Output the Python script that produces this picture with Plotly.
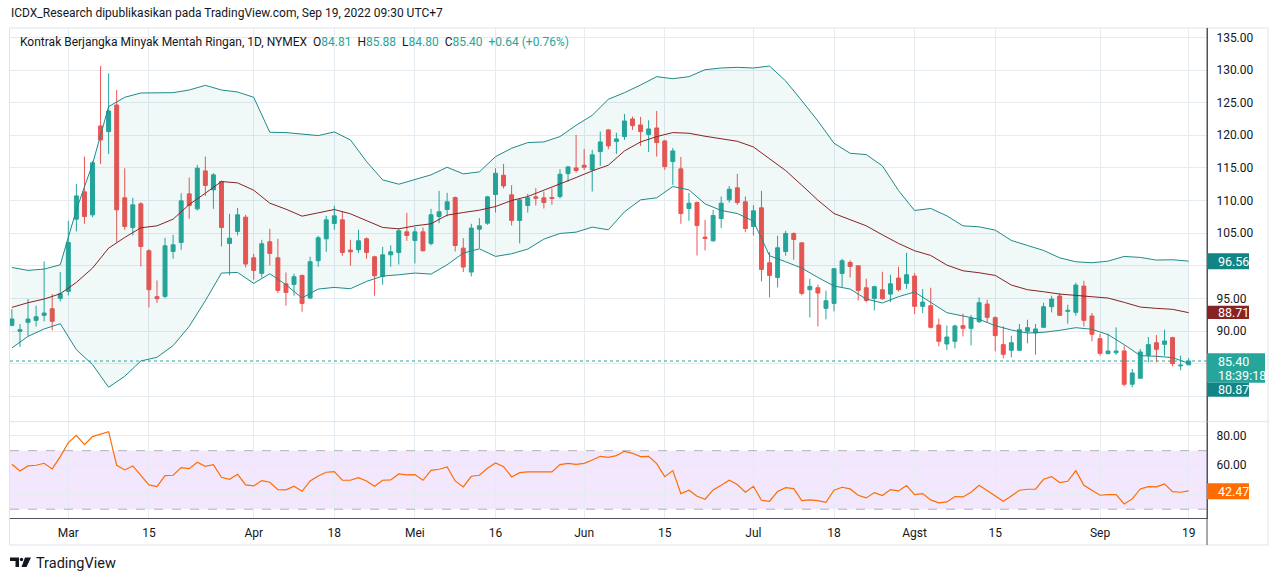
import pandas as pd
import plotly.graph_objects as go

# daily bars, NYMEX light crude, Feb 17 .. Sep 19 2022 (no bar on these days)
holidays = ['2022-02-21', '2022-04-15', '2022-05-30', '2022-06-20', '2022-07-04', '2022-09-05']
dates = [d for d in pd.bdate_range('2022-02-17', '2022-09-19') if d.strftime('%Y-%m-%d') not in holidays]

opens = [90.87, 89.95, 91.33, 91.63, 92.40, 93.42, 95.00, 96.07, 107.14, 111.33,
         107.80, 121.43, 120.56, 124.64, 110.41, 105.87, 109.49, 102.30, 95.26, 95.31,
         102.19, 103.57, 111.02, 108.72, 114.54, 111.63, 112.91, 103.42, 105.26, 107.45,
         101.22, 98.83, 103.67, 101.22, 97.24, 97.14, 98.52, 95.05, 100.77, 104.13,
         106.48, 107.04, 102.40, 102.45, 104.13, 101.38, 98.37, 101.68, 102.04, 105.20,
         103.88, 105.20, 103.42, 107.55, 108.62, 110.46, 102.70, 99.03, 105.61, 106.53,
         110.92, 113.88, 110.87, 106.94, 109.23, 110.56, 110.41, 110.46, 110.61, 114.13,
         115.00, 115.41, 114.69, 117.50, 120.82, 119.03, 119.80, 122.50, 121.58, 120.10,
         121.12, 119.13, 115.97, 114.85, 108.78, 109.69, 104.39, 103.83, 107.24, 110.10,
         111.94, 109.80, 106.02, 108.88, 100.46, 98.21, 102.19, 104.95, 103.52, 96.33,
         96.63, 93.47, 94.23, 98.83, 100.51, 100.00, 96.63, 95.00, 96.33, 95.66,
         98.11, 97.30, 98.42, 93.78, 93.88, 90.92, 88.01, 88.42, 90.82, 90.41,
         91.43, 94.13, 92.04, 87.91, 87.04, 87.04, 89.95, 89.69, 90.56, 93.72,
         95.36, 93.01, 92.86, 96.89, 92.30, 88.83, 86.53, 86.68, 86.94, 81.84,
         82.76, 86.28, 88.21, 87.96, 88.98, 84.64, 84.81]
highs = [93.37, 91.07, 94.90, 93.88, 100.66, 95.66, 99.03, 106.89, 112.55, 116.73,
         116.07, 130.60, 129.49, 126.94, 114.95, 110.41, 109.74, 102.55, 97.76, 104.29,
         104.74, 111.12, 113.52, 115.46, 116.73, 114.18, 113.06, 107.96, 108.88, 107.81,
         101.84, 103.98, 105.66, 104.13, 98.98, 98.78, 98.62, 101.38, 104.59, 107.65,
         109.18, 108.32, 103.98, 105.51, 104.34, 101.53, 102.90, 103.11, 105.77, 108.11,
         105.92, 105.87, 108.72, 111.48, 111.17, 110.61, 104.23, 106.43, 107.30, 110.71,
         114.95, 115.61, 112.35, 110.20, 111.02, 111.89, 111.38, 111.89, 114.80, 115.30,
         120.05, 117.91, 117.76, 120.56, 120.97, 120.36, 123.27, 122.86, 122.81, 122.30,
         123.72, 119.29, 118.06, 116.68, 111.17, 109.85, 107.04, 108.57, 110.61, 112.24,
         114.08, 110.61, 109.29, 111.48, 102.09, 104.59, 105.36, 105.10, 103.52, 98.01,
         97.09, 96.17, 99.64, 101.07, 100.82, 100.00, 98.01, 96.94, 99.08, 98.62,
         99.85, 101.99, 98.88, 96.43, 96.63, 91.89, 90.82, 90.97, 92.65, 92.45,
         95.15, 94.80, 92.24, 90.71, 89.29, 91.07, 91.73, 91.07, 94.34, 95.41,
         95.82, 94.03, 97.40, 97.70, 92.76, 89.59, 89.59, 90.56, 87.76, 84.18,
         87.24, 89.08, 89.39, 90.20, 89.13, 86.22, 85.88]
lows = [90.70, 87.55, 89.20, 90.70, 91.48, 90.10, 94.54, 95.46, 105.26, 106.43,
        107.45, 115.60, 117.14, 103.62, 105.51, 104.64, 99.90, 93.62, 94.29, 95.00,
        101.07, 102.45, 107.19, 108.47, 110.71, 108.72, 102.96, 98.52, 104.64, 99.74,
        97.86, 98.21, 100.05, 95.82, 93.88, 95.41, 92.96, 94.90, 99.85, 102.14,
        105.51, 101.53, 100.00, 101.94, 101.07, 95.41, 97.09, 99.85, 100.20, 103.83,
        100.36, 102.19, 103.11, 106.53, 107.55, 102.19, 99.03, 98.37, 102.70, 106.28,
        108.16, 111.84, 106.17, 103.42, 108.16, 109.23, 108.78, 109.34, 110.31, 112.86,
        114.29, 114.69, 111.38, 115.30, 117.86, 117.14, 119.29, 120.82, 118.37, 117.45,
        116.73, 114.69, 112.40, 106.43, 106.89, 101.58, 102.35, 103.67, 105.77, 109.69,
        109.34, 105.15, 104.64, 97.60, 95.15, 96.68, 101.53, 100.92, 95.46, 92.09,
        90.71, 91.79, 93.01, 96.68, 98.21, 94.69, 94.39, 93.16, 94.80, 94.44,
        96.07, 96.48, 92.60, 92.76, 90.41, 87.65, 87.09, 87.35, 89.18, 87.81,
        91.22, 91.33, 86.89, 85.82, 85.97, 87.04, 88.11, 86.38, 90.56, 92.86,
        92.40, 91.12, 92.35, 90.71, 88.42, 86.22, 86.43, 86.33, 81.53, 81.38,
        82.76, 85.20, 85.20, 86.22, 84.59, 83.98, 84.80]
closes = [91.84, 90.20, 91.84, 92.19, 92.76, 91.48, 95.71, 103.57, 110.71, 107.55,
          115.77, 119.29, 123.72, 108.57, 106.02, 109.34, 102.96, 96.33, 94.95, 103.06,
          103.21, 109.95, 109.23, 114.95, 112.30, 113.93, 105.87, 104.23, 107.81, 100.26,
          99.29, 103.37, 101.89, 96.22, 95.92, 98.32, 94.23, 100.61, 104.29, 107.04,
          107.65, 102.04, 102.14, 103.83, 102.04, 98.47, 101.68, 102.14, 105.36, 104.64,
          105.20, 102.30, 107.81, 108.27, 109.80, 103.11, 99.80, 105.77, 106.12, 110.56,
          114.18, 112.24, 106.94, 110.10, 110.41, 110.36, 109.69, 110.31, 114.03, 115.15,
          114.59, 115.10, 117.00, 118.98, 118.37, 119.44, 122.19, 121.48, 120.56, 120.97,
          118.88, 115.20, 117.60, 108.01, 109.59, 106.17, 104.18, 107.70, 109.59, 111.73,
          109.69, 105.71, 108.42, 99.44, 98.52, 102.76, 104.95, 104.03, 95.77, 96.84,
          95.82, 94.64, 99.54, 100.77, 99.90, 96.22, 94.69, 96.79, 94.95, 97.24,
          96.33, 98.62, 93.78, 94.44, 90.56, 88.42, 89.08, 90.77, 90.41, 91.99,
          94.34, 92.09, 89.29, 86.43, 88.21, 90.20, 90.51, 90.31, 93.72, 94.90,
          92.40, 93.16, 97.04, 91.63, 89.49, 86.58, 86.94, 86.94, 81.84, 83.57,
          86.79, 87.91, 87.19, 88.47, 85.00, 84.76, 85.40]

# RSI(14), one value per bar
rsi = [60.68, 56.14, 59.55, 60.00, 61.36, 57.50, 65.91, 75.45, 80.45, 74.09,
       79.55, 81.36, 82.95, 60.00, 56.82, 59.55, 53.18, 46.59, 45.45, 52.95,
       53.18, 58.41, 57.73, 62.05, 59.32, 60.45, 51.82, 50.45, 53.86, 46.59,
       45.91, 49.55, 48.41, 43.41, 43.18, 45.68, 42.27, 49.32, 52.73, 55.23,
       55.68, 49.77, 49.77, 51.59, 49.32, 45.68, 49.77, 50.00, 54.09, 53.41,
       53.64, 49.77, 56.59, 57.27, 58.86, 49.32, 45.23, 52.50, 53.18, 57.95,
       61.59, 59.09, 52.05, 55.00, 55.45, 55.45, 55.00, 55.45, 60.45, 61.36,
       60.68, 61.36, 63.64, 66.14, 65.45, 66.59, 69.55, 68.18, 65.91, 66.14,
       61.14, 52.27, 56.36, 40.68, 42.95, 38.86, 36.82, 43.18, 46.36, 49.77,
       46.82, 41.59, 45.68, 36.14, 35.45, 42.05, 44.77, 44.09, 35.91, 36.36,
       35.91, 34.77, 42.95, 45.00, 43.86, 39.55, 37.73, 41.36, 39.32, 43.41,
       42.50, 46.14, 40.00, 40.68, 36.36, 34.32, 35.00, 38.64, 38.41, 41.59,
       46.36, 42.73, 39.09, 35.45, 39.09, 42.95, 43.64, 43.64, 50.45, 52.27,
       48.18, 49.09, 56.36, 46.36, 42.95, 39.55, 40.00, 40.00, 33.64, 37.05,
       43.86, 45.45, 45.23, 47.27, 42.05, 41.59, 42.47]

# bollinger bands
bb_step = 2
bb_upper = [99.74, 99.29, 99.49, 100.15, 108.57, 115.60, 124.39, 125.82, 126.48, 126.48,
            126.53, 126.94, 127.65, 126.94, 126.63, 125.82, 120.46, 120.41, 120.20, 119.95,
            120.51, 119.29, 115.97, 113.16, 112.50, 113.16, 113.93, 115.10, 114.08, 114.39,
            116.73, 118.01, 118.88, 118.98, 119.80, 121.53, 123.06, 125.51, 126.53, 127.70,
            128.98, 128.67, 128.98, 130.05, 130.31, 130.41, 130.31, 130.61, 128.32, 125.31,
            122.19, 118.78, 117.24, 117.04, 115.31, 111.53, 108.47, 108.78, 107.65, 106.12,
            105.97, 105.46, 103.88, 103.11, 102.35, 101.22, 100.61, 100.46, 100.71, 101.43,
            101.28, 100.87, 100.92, 100.71]
bb_basis = [93.62, 94.34, 94.90, 95.71, 97.45, 99.64, 102.70, 104.34, 105.82, 106.12,
            107.14, 109.39, 111.12, 112.91, 112.70, 111.58, 109.59, 108.67, 107.60, 108.16,
            108.62, 107.96, 106.89, 105.87, 105.66, 106.12, 106.43, 107.76, 108.16, 108.52,
            109.08, 110.00, 110.61, 111.63, 112.55, 113.52, 114.54, 115.41, 117.60, 118.98,
            119.80, 120.41, 120.31, 119.85, 119.44, 119.08, 118.21, 116.33, 114.59, 112.35,
            110.05, 108.01, 107.04, 106.12, 104.74, 103.42, 102.30, 101.58, 100.10, 99.23,
            98.93, 98.52, 97.04, 96.33, 96.02, 95.66, 95.46, 95.26, 95.05, 94.39,
            93.67, 93.47, 93.32, 92.81]
bb_lower = [87.40, 89.18, 90.31, 91.12, 87.14, 84.85, 81.38, 83.06, 85.41, 85.97,
            87.76, 90.71, 94.64, 98.88, 98.98, 97.30, 98.78, 97.09, 95.05, 96.43,
            96.68, 96.48, 97.60, 98.42, 98.62, 98.88, 98.72, 100.15, 101.94, 102.60,
            101.43, 101.84, 102.55, 104.08, 104.95, 105.15, 105.92, 105.51, 108.27, 110.10,
            110.41, 112.14, 111.63, 109.49, 108.47, 108.01, 106.84, 101.53, 100.61, 99.64,
            98.21, 96.89, 96.43, 94.90, 94.29, 95.26, 95.97, 94.44, 92.81, 92.30,
            91.79, 90.82, 90.15, 89.69, 89.80, 90.10, 90.51, 90.26, 89.44, 87.91,
            86.22, 86.12, 85.92, 85.05]
# values printed in the price-scale tags (upper, basis, lower)
bb_tags = ['96.56', '88.71', '80.87']

tick_dates = ['2022-03-01', '2022-03-15', '2022-04-01', '2022-04-18', '2022-05-02', '2022-05-16',
              '2022-06-01', '2022-06-15', '2022-07-01', '2022-07-18', '2022-08-01', '2022-08-15',
              '2022-09-01', '2022-09-19']
tick_text = ['Mar', '15', 'Apr', '18', 'Mei', '16', 'Jun', '15', 'Jul', '18', 'Agst', '15', 'Sep', '19']

W, H = 1280, 581
def px(v): return v / W
def py(v): return 1 - v / H

up, down = '#26a69a', '#ef5350'
band, basis_col, rsi_col = '#1f8a8a', '#872323', '#ff6d00'
grid, text_col = '#e4ebf1', '#131722'

x = list(range(len(dates)))
day = [d.strftime('%b %d, %Y') for d in dates]
tick_idx = [x[[d.strftime('%Y-%m-%d') for d in dates].index(t)] for t in tick_dates]
bx = x[::bb_step]

fig = go.Figure()
fig.add_trace(go.Scatter(x=bx, y=bb_lower, mode='lines', line=dict(color=band, width=1), hoverinfo='skip'))
fig.add_trace(go.Scatter(x=bx, y=bb_upper, mode='lines', line=dict(color=band, width=1), fill='tonexty',
                         fillcolor='rgba(19,132,132,0.06)', hoverinfo='skip'))
fig.add_trace(go.Scatter(x=bx, y=bb_basis, mode='lines', line=dict(color=basis_col, width=1), hoverinfo='skip'))
fig.add_trace(go.Candlestick(x=x, open=opens, high=highs, low=lows, close=closes, text=day,
                             increasing=dict(line=dict(color=up, width=1), fillcolor=up),
                             decreasing=dict(line=dict(color=down, width=1), fillcolor=down)))
fig.add_trace(go.Scatter(x=x, y=rsi, yaxis='y2', mode='lines', line=dict(color=rsi_col, width=1.2), text=day))

# pixel layout of the TradingView frame
x_left, x_axis = 10, 1207
top, split, bottom = 28, 421.7, 518.3
first_bar, bar_px = 11.9, 8.06

fig.update_layout(
    width=W, height=H, margin=dict(l=0, r=0, t=0, b=0),
    paper_bgcolor='white', plot_bgcolor='white', showlegend=False,
    font=dict(family='Roboto, sans-serif', size=12, color=text_col),
    xaxis=dict(domain=[px(x_left), px(x_axis)], anchor='y2',
               range=[(x_left - first_bar) / bar_px, (x_axis - first_bar) / bar_px],
               tickvals=tick_idx, ticktext=tick_text, showgrid=True, gridcolor=grid,
               zeroline=False, showline=True, linecolor='#50535e', ticks='',
               ticklabelstandoff=3, rangeslider=dict(visible=False)),
    yaxis=dict(domain=[py(split), py(top)], anchor='x', side='right', range=[76.1, 136.44],
               tickvals=list(range(80, 136, 5)),
               ticktext=['' if v in (80, 85, 100) else f'{v:.2f}' for v in range(80, 136, 5)],
               showgrid=True, gridcolor=grid, zeroline=False, showline=True, linecolor='#50535e',
               ticks='', ticklabelstandoff=6),
    yaxis2=dict(domain=[py(bottom), py(split)], anchor='x', side='right', range=[23.8, 89.76],
                tickvals=[40, 60, 80], ticktext=['', '60.00', '80.00'],
                showgrid=True, gridcolor=grid, zeroline=False, showline=True, linecolor='#50535e',
                ticks='', ticklabelstandoff=6),
)

shapes = [
    # frame and panel separators
    dict(type='rect', xref='paper', yref='paper', x0=px(9.5), x1=px(1268), y0=py(545), y1=py(top),
         line=dict(color='#e0e3eb', width=1), layer='below'),
    dict(type='line', xref='paper', yref='paper', x0=px(x_left), x1=px(1268), y0=py(split), y1=py(split),
         line=dict(color='#e0e3eb', width=1)),
    dict(type='line', xref='paper', yref='paper', x0=px(x_axis), x1=px(x_axis), y0=py(545), y1=py(top),
         line=dict(color='#50535e', width=1)),
    # RSI 30-70 zone
    dict(type='rect', xref='paper', yref='y2', x0=px(x_left), x1=px(x_axis), y0=30, y1=70,
         fillcolor='rgba(149,60,240,0.12)', line=dict(width=0), layer='below'),
    dict(type='line', xref='paper', yref='y2', x0=px(x_left), x1=px(x_axis), y0=70, y1=70,
         line=dict(color='rgba(120,123,134,0.55)', width=1, dash='dash')),
    dict(type='line', xref='paper', yref='y2', x0=px(x_left), x1=px(x_axis), y0=30, y1=30,
         line=dict(color='rgba(120,123,134,0.55)', width=1, dash='dash')),
    # last price line
    dict(type='line', xref='paper', yref='y', x0=px(x_left), x1=px(x_axis), y0=closes[-1], y1=closes[-1],
         line=dict(color=up, width=1, dash='dot')),
]

# price scale tags: (top, bottom, right edge, colour)
tags = [(253.3, 269.3, 1249, '#138484'), (305.7, 319.0, 1249, basis_col), (353.3, 382.7, 1265, up),
        (382.7, 396.7, 1249, '#138484'), (483.3, 499.3, 1249, rsi_col)]
for t0, t1, r, c in tags:
    shapes.append(dict(type='rect', xref='paper', yref='paper', x0=px(x_axis), x1=px(r), y0=py(t1), y1=py(t0),
                       fillcolor=c, line=dict(width=0)))

# TradingView logo mark
shapes += [
    dict(type='path', xref='paper', yref='paper', fillcolor=text_col, line=dict(width=0),
         path=f'M {px(10)},{py(557.5)} L {px(19)},{py(557.5)} L {px(19)},{py(567)} L {px(15.5)},{py(567)} '
              f'L {px(15.5)},{py(561)} L {px(10)},{py(561)} Z'),
    dict(type='circle', xref='paper', yref='paper', fillcolor=text_col, line=dict(width=0),
         x0=px(19.8), x1=px(23.2), y0=py(561.2), y1=py(557.8)),
    dict(type='path', xref='paper', yref='paper', fillcolor=text_col, line=dict(width=0),
         path=f'M {px(25)},{py(557.5)} L {px(31)},{py(557.5)} L {px(26.5)},{py(567)} L {px(21.5)},{py(567)} Z'),
]
fig.update_layout(shapes=shapes)

chg = closes[-1] - closes[-2]
g = lambda v: f'<span style="color:{up}">{v}</span>'
sp = '\u00a0'
legend = (f'Kontrak Berjangka Minyak Mentah Ringan, 1D, NYMEX{sp*2}O{g(f"{opens[-1]:.2f}")}{sp*2}'
          f'H{g(f"{highs[-1]:.2f}")}{sp*2}L{g(f"{lows[-1]:.2f}")}{sp*2}C{g(f"{closes[-1]:.2f}")}{sp*2}'
          + g(f'{chg:+.2f} ({chg / closes[-2] * 100:+.2f}%)'))

notes = [
    (9, 13, 'ICDX_Research dipublikasikan pada TradingView.com, Sep 19, 2022 09:30 UTC+7', 12, text_col),
    (18, 42, legend, 12, text_col),
    (34, 563.5, 'TradingView', 14.5, text_col),
    (1216, 261.3, bb_tags[0], 12.5, 'white'),
    (1216, 312.3, bb_tags[1], 12.5, 'white'),
    (1216, 361.5, f'{closes[-1]:.2f}', 12.5, 'white'),
    (1216, 375.5, '18:39:18', 12.5, 'white'),
    (1216, 389.7, bb_tags[2], 12.5, 'white'),
    (1216, 491.3, f'{rsi[-1]:.2f}', 12.5, 'white'),
]
for nx, ny, txt, size, col in notes:
    fig.add_annotation(x=px(nx), y=py(ny), xref='paper', yref='paper', text=txt, showarrow=False,
                       xanchor='left', yanchor='middle', font=dict(size=size, color=col))

# the page body has a default 8px margin; drop it so the figure fills the window
fig.write_html('out.html', config={'displayModeBar': False},
               post_script="document.body.style.margin='0px';")
